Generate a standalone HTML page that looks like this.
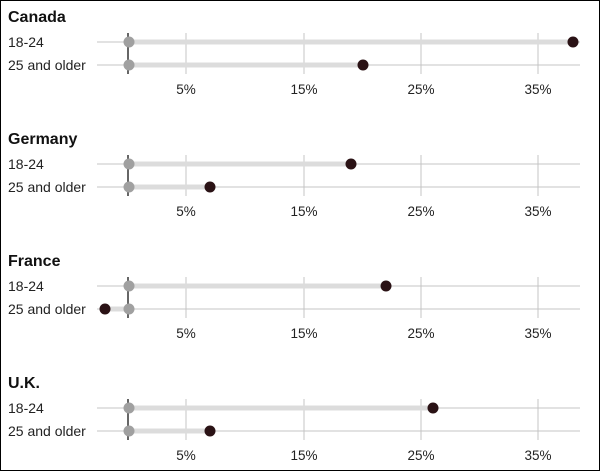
<!DOCTYPE html>
<html><head><style>
html,body{margin:0;padding:0;background:#fff}
svg{display:block;font-family:"Liberation Sans",sans-serif}
</style></head><body>
<svg width="600" height="471" viewBox="0 0 600 471" xmlns="http://www.w3.org/2000/svg">
<rect x="0.5" y="0.5" width="599" height="470" fill="#fff" stroke="#000" stroke-width="1"/>
<defs>
<g id="axes">
<line x1="97" y1="42" x2="580" y2="42" stroke="#c4c4c4" stroke-width="1"/>
<line x1="97" y1="65" x2="580" y2="65" stroke="#c4c4c4" stroke-width="1"/>
<line x1="186" y1="33" x2="186" y2="74" stroke="#c4c4c4"/>
<line x1="304" y1="33" x2="304" y2="74" stroke="#c4c4c4"/>
<line x1="421" y1="33" x2="421" y2="74" stroke="#c4c4c4"/>
<line x1="538" y1="33" x2="538" y2="74" stroke="#c4c4c4"/>
<text x="186" y="94" font-size="13.5" text-anchor="middle" fill="#222">5%</text>
<text x="304" y="94" font-size="13.5" text-anchor="middle" fill="#222">15%</text>
<text x="421" y="94" font-size="13.5" text-anchor="middle" fill="#222">25%</text>
<text x="538" y="94" font-size="13.5" text-anchor="middle" fill="#222">35%</text>
<text x="8" y="47" font-size="14" fill="#222">18-24</text>
<text x="8" y="70" font-size="14" fill="#222">25 and older</text>
</g>
</defs>

<g>
<use href="#axes"/>
<text x="8" y="22" font-size="16" font-weight="bold" fill="#111">Canada</text>
<rect x="129" y="39.5" width="444" height="5" fill="#dcdcdc"/>
<rect x="129" y="62.5" width="234" height="5" fill="#dcdcdc"/>
<line x1="128" y1="33" x2="128" y2="74" stroke="#333" stroke-width="1.5"/>
<circle cx="129" cy="42" r="5.5" fill="#a0a0a0"/><circle cx="129" cy="65" r="5.5" fill="#a0a0a0"/>
<circle cx="573" cy="42" r="5.5" fill="#2a1215"/><circle cx="363" cy="65" r="5.5" fill="#2a1215"/>
</g>

<g transform="translate(0,122)">
<use href="#axes"/>
<text x="8" y="22" font-size="16" font-weight="bold" fill="#111">Germany</text>
<rect x="129" y="39.5" width="222" height="5" fill="#dcdcdc"/>
<rect x="129" y="62.5" width="81" height="5" fill="#dcdcdc"/>
<line x1="128" y1="33" x2="128" y2="74" stroke="#333" stroke-width="1.5"/>
<circle cx="129" cy="42" r="5.5" fill="#a0a0a0"/><circle cx="129" cy="65" r="5.5" fill="#a0a0a0"/>
<circle cx="351" cy="42" r="5.5" fill="#2a1215"/><circle cx="210" cy="65" r="5.5" fill="#2a1215"/>
</g>

<g transform="translate(0,244)">
<use href="#axes"/>
<text x="8" y="22" font-size="16" font-weight="bold" fill="#111">France</text>
<rect x="129" y="39.5" width="257" height="5" fill="#dcdcdc"/>
<rect x="105" y="62.5" width="24" height="5" fill="#dcdcdc"/>
<line x1="128" y1="33" x2="128" y2="74" stroke="#333" stroke-width="1.5"/>
<circle cx="129" cy="42" r="5.5" fill="#a0a0a0"/><circle cx="129" cy="65" r="5.5" fill="#a0a0a0"/>
<circle cx="386" cy="42" r="5.5" fill="#2a1215"/><circle cx="105" cy="65" r="5.5" fill="#2a1215"/>
</g>

<g transform="translate(0,366)">
<use href="#axes"/>
<text x="8" y="22" font-size="16" font-weight="bold" fill="#111">U.K.</text>
<rect x="129" y="39.5" width="304" height="5" fill="#dcdcdc"/>
<rect x="129" y="62.5" width="81" height="5" fill="#dcdcdc"/>
<line x1="128" y1="33" x2="128" y2="74" stroke="#333" stroke-width="1.5"/>
<circle cx="129" cy="42" r="5.5" fill="#a0a0a0"/><circle cx="129" cy="65" r="5.5" fill="#a0a0a0"/>
<circle cx="433" cy="42" r="5.5" fill="#2a1215"/><circle cx="210" cy="65" r="5.5" fill="#2a1215"/>
</g>
</svg>
</body></html>
